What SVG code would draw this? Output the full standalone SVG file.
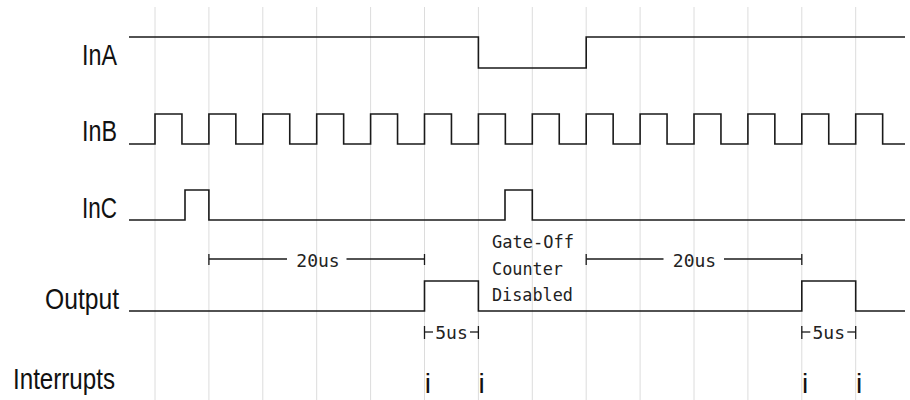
<svg xmlns="http://www.w3.org/2000/svg" width="910" height="400" viewBox="0 0 910 400">
<style>
.grid line{stroke:#dcdcdc;stroke-width:1}
.wave{fill:none;stroke:#1a1a1a;stroke-width:1.6;stroke-linejoin:miter}
.lbl{font-family:"Liberation Sans",Arial,sans-serif;font-size:29px;fill:#111}
.note{font-family:"DejaVu Sans Mono","Liberation Mono",monospace;font-size:18px;fill:#222}
.dim{stroke:#1a1a1a;stroke-width:1.3;fill:none}
.irq{font-family:"Liberation Sans",Arial,sans-serif;font-size:28px;fill:#111}
</style>
<rect width="910" height="400" fill="#fff"/>
<g class="grid" id="grid">
<line x1="155" y1="7" x2="155" y2="400"/>
<line x1="208.9" y1="7" x2="208.9" y2="400"/>
<line x1="262.8" y1="7" x2="262.8" y2="400"/>
<line x1="316.7" y1="7" x2="316.7" y2="400"/>
<line x1="370.6" y1="7" x2="370.6" y2="400"/>
<line x1="424.5" y1="7" x2="424.5" y2="400"/>
<line x1="478.4" y1="7" x2="478.4" y2="400"/>
<line x1="532.3" y1="7" x2="532.3" y2="400"/>
<line x1="586.2" y1="7" x2="586.2" y2="400"/>
<line x1="640.1" y1="7" x2="640.1" y2="400"/>
<line x1="694" y1="7" x2="694" y2="400"/>
<line x1="747.9" y1="7" x2="747.9" y2="400"/>
<line x1="801.8" y1="7" x2="801.8" y2="400"/>
<line x1="855.7" y1="7" x2="855.7" y2="400"/>
</g>
<g id="InA">
<text class="lbl" x="82" y="65" textLength="35" lengthAdjust="spacingAndGlyphs">InA</text>
<path class="wave" d="M129 37H478.4V68H586.2V37H905"/>
</g>
<g id="InB">
<text class="lbl" x="82" y="141" textLength="35" lengthAdjust="spacingAndGlyphs">InB</text>
<path class="wave" d="M129 144H155V114H181.95V144H208.9V114H235.85V144H262.8V114H289.75V144H316.7V114H343.65V144H370.6V114H397.55V144H424.5V114H451.45V144H478.4V114H505.35V144H532.3V114H559.25V144H586.2V114H613.15V144H640.1V114H667.05V144H694V114H720.95V144H747.9V114H774.85V144H801.8V114H828.75V144H855.7V114H882.65V144H905"/>
</g>
<g id="InC">
<text class="lbl" x="82" y="218" textLength="35" lengthAdjust="spacingAndGlyphs">InC</text>
<path class="wave" d="M129 220H185V190H208.9V220H505V190H532.3V220H905"/>
</g>
<g id="Output">
<text class="lbl" x="45" y="309" textLength="74" lengthAdjust="spacingAndGlyphs">Output</text>
<path class="wave" d="M129 311H424.5V281H478.4V311H801.8V281H855.7V311H905"/>
</g>
<g id="gate-note">
<text class="note" x="492" y="248" textLength="82" lengthAdjust="spacingAndGlyphs">Gate-Off</text>
<text class="note" x="492" y="274.5" textLength="71" lengthAdjust="spacingAndGlyphs">Counter</text>
<text class="note" x="492" y="301" textLength="81" lengthAdjust="spacingAndGlyphs">Disabled</text>
</g>
<g id="connectors">
<g id="dim20a">
<line class="dim" x1="208.9" y1="254" x2="208.9" y2="265"/>
<line class="dim" x1="208.9" y1="259" x2="287" y2="259"/>
<line class="dim" x1="346.5" y1="259" x2="424.5" y2="259"/>
<line class="dim" x1="424.5" y1="254" x2="424.5" y2="265"/>
<text class="note" x="318" y="266.5" text-anchor="middle">20us</text>
</g>
<g id="dim20b">
<line class="dim" x1="586.2" y1="254" x2="586.2" y2="265"/>
<line class="dim" x1="586.2" y1="259" x2="663.5" y2="259"/>
<line class="dim" x1="724" y1="259" x2="801.8" y2="259"/>
<line class="dim" x1="801.8" y1="254" x2="801.8" y2="265"/>
<text class="note" x="694.5" y="266.5" text-anchor="middle">20us</text>
</g>
<g id="dim5a">
<line class="dim" x1="424.5" y1="326" x2="424.5" y2="339"/>
<line class="dim" x1="424.5" y1="332" x2="433" y2="332"/>
<line class="dim" x1="470" y1="332" x2="478.4" y2="332"/>
<line class="dim" x1="478.4" y1="326" x2="478.4" y2="339"/>
<text class="note" x="451.5" y="338.5" text-anchor="middle">5us</text>
</g>
<g id="dim5b">
<line class="dim" x1="801.8" y1="326" x2="801.8" y2="339"/>
<line class="dim" x1="801.8" y1="332" x2="810.3" y2="332"/>
<line class="dim" x1="847.3" y1="332" x2="855.7" y2="332"/>
<line class="dim" x1="855.7" y1="326" x2="855.7" y2="339"/>
<text class="note" x="828.8" y="338.5" text-anchor="middle">5us</text>
</g>
</g>
<g id="Interrupts">
<text class="lbl" x="13" y="389.3" textLength="102" lengthAdjust="spacingAndGlyphs">Interrupts</text>
<text class="irq" x="424.7" y="392.5">i</text>
<text class="irq" x="478.6" y="392.5">i</text>
<text class="irq" x="802" y="392.5">i</text>
<text class="irq" x="855.9" y="392.5">i</text>
</g>
</svg>
